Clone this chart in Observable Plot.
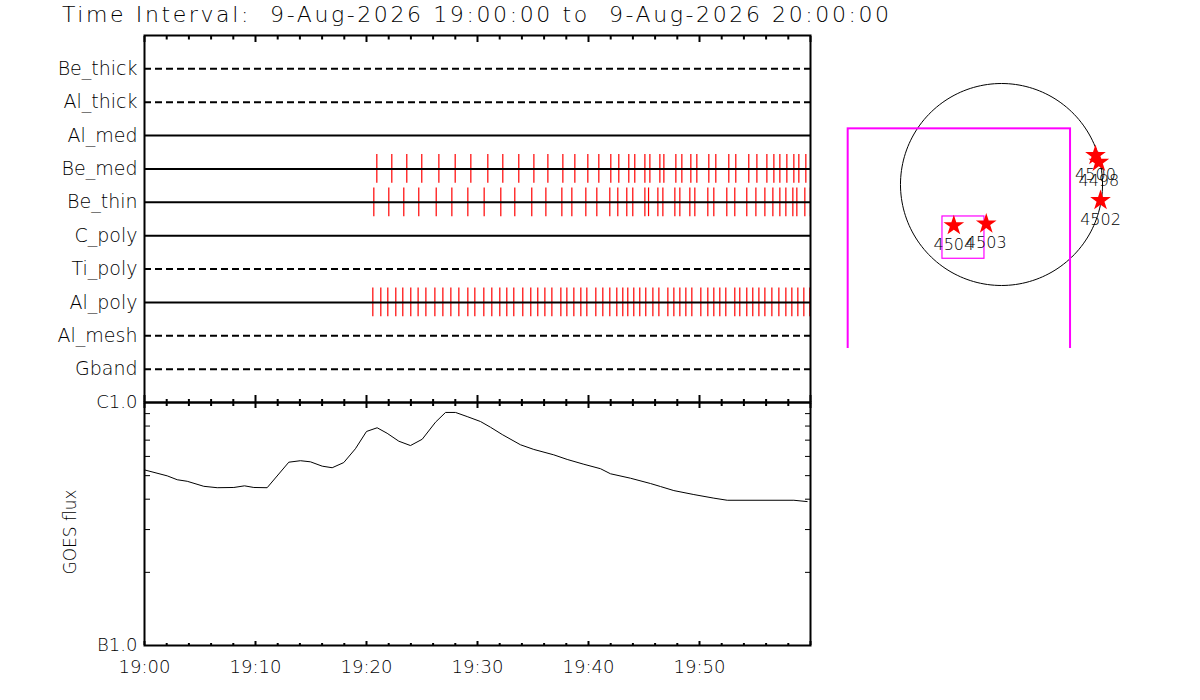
<!DOCTYPE html>
<html><head><meta charset="utf-8">
<script src="https://cdn.jsdelivr.net/npm/d3@7"></script>
<script src="https://cdn.jsdelivr.net/npm/@observablehq/plot@0.6"></script>
<style>
body{margin:0;background:#fff;}
#root{position:relative;width:1200px;height:700px;overflow:hidden;background:#fff;font-family:"DejaVu Sans",sans-serif;font-weight:200;}
#title{position:absolute;left:62px;top:4px;font-size:22px;line-height:22px;letter-spacing:2.6px;white-space:pre;color:#000;}
svg text{font-weight:200;}
</style></head>
<body><div id="root"><div id="title">Time Interval:  9-Aug-2026 19:00:00 to  9-Aug-2026 20:00:00</div></div>
<script>
// ---- data ----
const rows = ["Be_thick","Al_thick","Al_med","Be_med","Be_thin","C_poly","Ti_poly","Al_poly","Al_mesh","Gband"];
const rowDashed = [true,true,false,false,false,false,true,false,true,true];
// event times, minutes after 19:00
const beMedTimes = [20.93,22.28,23.63,24.98,26.52,27.99,29.40,30.93,32.28,33.72,35.08,36.34,37.69,38.77,39.94,40.93,42.01,42.73,43.63,44.17,45.08,45.53,46.43,46.79,47.87,48.41,49.22,49.76,50.84,51.47,52.64,53.27,54.44,55.17,56.07,56.70,57.24,57.87,58.50,58.95,59.58];
const beThinTimes = [20.66,22.01,23.36,24.71,26.28,27.69,29.13,30.60,32.10,33.36,34.89,36.16,37.60,38.50,39.76,40.75,41.92,42.64,43.45,43.99,45.08,45.41,46.25,46.70,47.78,48.23,49.13,49.58,50.75,51.29,52.46,53.18,54.26,55.08,55.89,56.61,57.24,57.78,58.41,58.77,59.49,59.99];
const alPolyTimes = [20.57,21.29,21.92,22.64,23.27,23.99,24.65,25.35,26.16,26.88,27.60,28.32,29.13,29.76,30.57,31.29,32.01,32.64,33.27,34.08,34.80,35.43,36.07,36.70,37.51,38.05,38.68,39.31,39.85,40.66,41.29,41.92,42.55,43.09,43.54,44.08,44.62,45.16,45.80,46.34,47.15,47.69,48.23,48.77,49.31,50.12,50.75,51.29,51.83,52.37,53.18,53.63,54.26,54.80,55.35,55.89,56.52,57.15,57.78,58.32,58.86,59.40,59.94];
const goesMinutes = [0,2.05,2.95,3.85,5.34,6.55,8.05,9.01,9.85,11.05,13.0,14.05,14.95,16.01,16.91,17.95,19.0,20.0,20.96,21.86,22.91,23.96,25.02,26.22,27.12,28.02,29.07,30.27,31.17,32.23,33.87,35.07,36.87,38.08,39.58,41.08,41.98,43.78,45.59,46.49,47.69,49.49,51.29,52.5,58.5,59.7];
const goesFlux = [5.28e-7,4.99e-7,4.81e-7,4.74e-7,4.52e-7,4.46e-7,4.47e-7,4.54e-7,4.47e-7,4.46e-7,5.68e-7,5.76e-7,5.70e-7,5.47e-7,5.39e-7,5.66e-7,6.45e-7,7.60e-7,7.87e-7,7.47e-7,6.93e-7,6.65e-7,7.06e-7,8.30e-7,9.10e-7,9.10e-7,8.75e-7,8.35e-7,7.91e-7,7.38e-7,6.70e-7,6.41e-7,6.09e-7,5.83e-7,5.57e-7,5.34e-7,5.09e-7,4.88e-7,4.64e-7,4.51e-7,4.34e-7,4.18e-7,4.04e-7,3.96e-7,3.96e-7,3.91e-7];
const xMajorTicks = [0,10,20,30,40,50,60];
const xMinorTicks = [2,4,6,8,12,14,16,18,22,24,26,28,32,34,36,38,42,44,46,48,52,54,56,58];
const xTickValues = [0,10,20,30,40,50];
const xTickLabels = ["19:00","19:10","19:20","19:30","19:40","19:50"];
const fluxTickValues = [1e-7,1e-6];
const fluxTickLabels = ["B1.0","C1.0"];
const fluxMinorTicks = [2e-7,3e-7,4e-7,5e-7,6e-7,7e-7,8e-7,9e-7];
// map (arcsec)
const solarRadius = 960;
const arNumbers = ["4504","4503","4500","4498","4502"];
const arX = [-453,-145,893,925,941];
const arY = [-390,-374,276,212,-152];
const fovX1 = [-1457,-561], fovX2 = [656,-162], fovY1 = [-1584,-706], fovY2 = [529,-304], fovWidth = [2,1.2];

// ---- build ----
const root = document.getElementById("root");
function place(el, left, top){el.style.position="absolute";el.style.left=left+"px";el.style.top=top+"px";root.append(el);}
const baseStyle = {fontFamily:"DejaVu Sans", fontSize:"19px", fontWeight:"200", background:"transparent", overflow:"visible", color:"black"};
const blank = () => "";

const rowIdx = rows.map((r,i)=>i+1);
const events = [
  ...beMedTimes.map(t=>({t, i: rows.indexOf("Be_med")+1})),
  ...beThinTimes.map(t=>({t, i: rows.indexOf("Be_thin")+1})),
  ...alPolyTimes.map(t=>({t, i: rows.indexOf("Al_poly")+1}))
];

const p1 = Plot.plot({
  width:840, height:410, marginLeft:144, marginRight:30, marginTop:35, marginBottom:8,
  style: baseStyle,
  x:{domain:[0,60], label:null},
  y:{domain:[0, rows.length+1], reverse:true, label:null},
  marks:[
    Plot.ruleX(events, {x:"t", y1:d=>d.i-0.43, y2:d=>d.i+0.43, stroke:"red", strokeWidth:1.2}),
    Plot.ruleY(rowIdx.filter((d,k)=>!rowDashed[k]), {y:d=>d, stroke:"black", strokeWidth:2}),
    Plot.ruleY(rowIdx.filter((d,k)=>rowDashed[k]), {y:d=>d, stroke:"black", strokeWidth:2, strokeDasharray:"7,4"}),
    Plot.axisY({ticks:rowIdx, tickFormat:d=>rows[d-1], tickSize:0, tickPadding:7, fontSize:19}),
    Plot.axisX({anchor:"top", ticks:xMajorTicks, tickSize:-6, tickFormat:blank, strokeWidth:2}),
    Plot.axisX({anchor:"top", ticks:xMinorTicks, tickSize:-3.5, tickFormat:blank, strokeWidth:2}),
    Plot.axisX({anchor:"bottom", ticks:xMajorTicks, tickSize:-7, tickFormat:blank, strokeWidth:2}),
    Plot.axisX({anchor:"bottom", ticks:xMinorTicks, tickSize:-3, tickFormat:blank, strokeWidth:2}),
    Plot.frame({stroke:"black", strokeWidth:2})
  ]
});
place(p1, 0, 0);

const goes = goesMinutes.map((t,k)=>({t, f:goesFlux[k]}));
const p2 = Plot.plot({
  width:840, height:310, marginLeft:144, marginRight:30, marginTop:12, marginBottom:55,
  style:{...baseStyle, fontSize:"18px"},
  x:{domain:[0,60], label:null},
  y:{type:"log", domain:[1e-7,1e-6], label:null},
  marks:[
    Plot.line(goes, {x:"t", y:"f", stroke:"black", strokeWidth:1}),
    Plot.axisY({ticks:fluxTickValues, tickFormat:d=>fluxTickLabels[fluxTickValues.indexOf(d)], tickSize:0, tickPadding:7, fontSize:18}),
    Plot.axisY({anchor:"left", ticks:fluxMinorTicks, tickSize:-6, tickFormat:blank}),
    Plot.axisY({anchor:"right", ticks:fluxMinorTicks, tickSize:-6, tickFormat:blank}),
    Plot.axisX({anchor:"top", ticks:xMajorTicks, tickSize:-5, tickFormat:blank, strokeWidth:2}),
    Plot.axisX({anchor:"top", ticks:xMinorTicks, tickSize:-3, tickFormat:blank, strokeWidth:2}),
    Plot.axisX({anchor:"bottom", ticks:xMajorTicks, tickSize:-4, tickFormat:blank, strokeWidth:2}),
    Plot.axisX({anchor:"bottom", ticks:xMinorTicks, tickSize:-2, tickFormat:blank, strokeWidth:2}),
    Plot.axisX({anchor:"bottom", ticks:xTickValues, tickFormat:d=>xTickLabels[xTickValues.indexOf(d)], tickSize:0, tickPadding:15, fontSize:18}),
    Plot.text(["GOES flux"], {frameAnchor:"left", dx:-74, dy:8, rotate:-90, textAnchor:"middle", fontSize:17}),
    Plot.frame({stroke:"black", strokeWidth:2})
  ]
});
place(p2, 0, 390);

const limb = d3.range(0, 361, 2).map(a=>({x:solarRadius*Math.cos(a*Math.PI/180), y:solarRadius*Math.sin(a*Math.PI/180)}));
const ars = arNumbers.map((n,k)=>({n, x:arX[k], y:arY[k]}));
const fovs = fovX1.map((d,k)=>({x1:fovX1[k], x2:fovX2[k], y1:fovY1[k], y2:fovY2[k], w:fovWidth[k]}));
const p3 = Plot.plot({
  width:360, height:348, marginLeft:0, marginRight:0, marginTop:0, marginBottom:0,
  style:{...baseStyle, fontSize:"16px", overflow:"hidden"},
  x:{domain:[-1530,1891], label:null, axis:null},
  y:{domain:[-1559,1749], label:null, axis:null},
  marks:[
    Plot.line(limb, {x:"x", y:"y", stroke:"black", strokeWidth:1}),
    Plot.rect(fovs, {x1:"x1", x2:"x2", y1:"y1", y2:"y2", fill:"none", stroke:"magenta", strokeWidth:d=>d.w, clip:true}),
    Plot.dot(ars, {x:"x", y:"y", symbol:"star", fill:"red", r:6.5}),
    Plot.text(ars, {x:"x", y:"y", text:"n", dy:19, fontSize:16, fill:"black"})
  ]
});
place(p3, 840, 0);
</script></body></html>
